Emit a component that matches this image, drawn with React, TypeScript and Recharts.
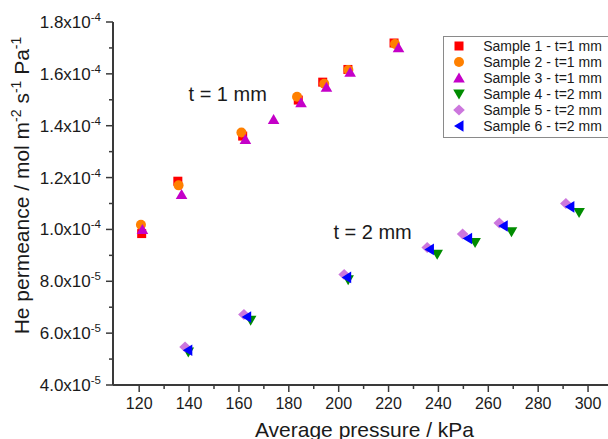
import React from 'react';
import { ScatterChart, Scatter, XAxis, YAxis, ReferenceDot, Legend } from 'recharts';

const FONT = 'Arial, "Liberation Sans", Helvetica, sans-serif';
const AXIS = '#3a3a3a';
const TEXT = '#1a1a1a';

// ticks
const xMajorTicks = [120, 140, 160, 180, 200, 220, 240, 260, 280, 300];
const xMinorTicks = [130, 150, 170, 190, 210, 230, 250, 270, 290];
const yMajorTicks = [4e-5, 6e-5, 8e-5, 1.0e-4, 1.2e-4, 1.4e-4, 1.6e-4, 1.8e-4];
const yMinorTicks = [5e-5, 7e-5, 9e-5, 1.1e-4, 1.3e-4, 1.5e-4, 1.7e-4];
const yTickMantissas = ['4.0', '6.0', '8.0', '1.0', '1.2', '1.4', '1.6', '1.8'];
const yTickExponents = ['-5', '-5', '-5', '-4', '-4', '-4', '-4', '-4'];

// series names / styles
const sampleNames = [
  'Sample 1 - t=1 mm',
  'Sample 2 - t=1 mm',
  'Sample 3 - t=1 mm',
  'Sample 4 - t=2 mm',
  'Sample 5 - t=2 mm',
  'Sample 6 - t=2 mm',
];
const sampleColors = ['#ff0000', '#ff8000', '#c400c8', '#008c00', '#cc77dd', '#0000ff'];
const sampleShapes = ['square', 'circle', 'triangleUp', 'triangleDown', 'diamond', 'triangleLeft'];

// data (kPa, mol m-2 s-1 Pa-1)
const s1Pressure = [121.0, 135.5, 161.5, 183.8, 193.6, 203.7, 222.2];
const s1Permeance = [9.84e-5, 1.186e-4, 1.36e-4, 1.499e-4, 1.568e-4, 1.617e-4, 1.719e-4];
const s2Pressure = [120.7, 135.8, 161.0, 183.3, 194.2, 203.9, 222.6];
const s2Permeance = [1.018e-4, 1.17e-4, 1.374e-4, 1.512e-4, 1.562e-4, 1.615e-4, 1.715e-4];
const s3Pressure = [121.3, 137.0, 162.6, 173.9, 184.9, 195.1, 204.6, 224.0];
const s3Permeance = [1.0e-4, 1.135e-4, 1.347e-4, 1.424e-4, 1.489e-4, 1.548e-4, 1.606e-4, 1.701e-4];
const s4Pressure = [139.7, 164.7, 203.8, 239.5, 254.7, 269.3, 296.4];
const s4Permeance = [5.27e-5, 6.5e-5, 8.06e-5, 9.04e-5, 9.5e-5, 9.91e-5, 1.065e-4];
const s5Pressure = [138.4, 162.0, 202.2, 235.5, 249.7, 264.4, 291.1];
const s5Permeance = [5.47e-5, 6.72e-5, 8.26e-5, 9.3e-5, 9.82e-5, 1.025e-4, 1.1e-4];
const s6Pressure = [139.5, 163.1, 203.2, 236.4, 251.7, 266.0, 292.7];
const s6Permeance = [5.34e-5, 6.62e-5, 8.15e-5, 9.23e-5, 9.65e-5, 1.013e-4, 1.087e-4];

// annotations
const annotationTexts = ['t = 1 mm', 't = 2 mm'];
const annotationX = [155.5, 213.6];
const annotationY = [1.522e-4, 9.89e-5];

const zip = (p: number[], v: number[]) => p.map((x, i) => ({ p: x, v: v[i] }));
const seriesData = [
  zip(s1Pressure, s1Permeance),
  zip(s2Pressure, s2Permeance),
  zip(s3Pressure, s3Permeance),
  zip(s4Pressure, s4Permeance),
  zip(s5Pressure, s5Permeance),
  zip(s6Pressure, s6Permeance),
];

const xTicks = [...xMajorTicks, ...xMinorTicks].sort((a, b) => a - b);
const yTicks = [...yMajorTicks, ...yMinorTicks].sort((a, b) => a - b);

function Marker({ kind, cx, cy, color }: { kind: string; cx: number; cy: number; color: string }) {
  switch (kind) {
    case 'square':
      return <rect x={cx - 4.5} y={cy - 4.5} width={9} height={9} fill={color} />;
    case 'circle':
      return <circle cx={cx} cy={cy} r={5} fill={color} />;
    case 'triangleUp':
      return <polygon points={`${cx},${cy - 5.5} ${cx + 5.8},${cy + 4.5} ${cx - 5.8},${cy + 4.5}`} fill={color} />;
    case 'triangleDown':
      return <polygon points={`${cx - 5.8},${cy - 4.5} ${cx + 5.8},${cy - 4.5} ${cx},${cy + 5.5}`} fill={color} />;
    case 'diamond':
      return <polygon points={`${cx},${cy - 5.5} ${cx + 5.8},${cy} ${cx},${cy + 5.5} ${cx - 5.8},${cy}`} fill={color} />;
    case 'triangleLeft':
      return <polygon points={`${cx - 5},${cy} ${cx + 4.5},${cy - 5.8} ${cx + 4.5},${cy + 5.8}`} fill={color} />;
    default:
      return null;
  }
}

const XTick = (props: any) => {
  const { x, y, payload } = props;
  const v = payload.value;
  const major = xMajorTicks.some((t) => Math.abs(t - v) < 1e-6);
  return (
    <g>
      <line x1={x} x2={x} y1={y} y2={y + (major ? 7 : 4)} stroke={AXIS} strokeWidth={1.5} />
      {major && (
        <text x={x} y={y + 13} dy="0.71em" textAnchor="middle" fontSize={16} fontFamily={FONT} fill={TEXT}>
          {v}
        </text>
      )}
    </g>
  );
};

const YTick = (props: any) => {
  const { x, y, payload } = props;
  const v = payload.value;
  const idx = yMajorTicks.findIndex((t) => Math.abs(t - v) < 1e-12);
  const major = idx >= 0;
  return (
    <g>
      <line x1={x - (major ? 7 : 4)} x2={x} y1={y} y2={y} stroke={AXIS} strokeWidth={1.5} />
      {major && (
        <text x={x - 12} y={y} dy="0.35em" textAnchor="end" fontSize={17} fontFamily={FONT} fill={TEXT}>
          <tspan>{yTickMantissas[idx]}x10</tspan>
          <tspan dy={-7} fontSize={11.5}>
            {yTickExponents[idx]}
          </tspan>
        </text>
      )}
    </g>
  );
};

const YTitle = (props: any) => {
  const vb = props.viewBox || { x: 0, y: 14, width: 105, height: 363 };
  const cx = vb.x + 14;
  const cy = vb.y + vb.height / 2 - 18;
  return (
    <text
      x={cx}
      y={cy}
      transform={`rotate(-90 ${cx} ${cy})`}
      textAnchor="middle"
      dy="0.35em"
      fontSize={21}
      fontFamily={FONT}
      fill={TEXT}
      style={{ whiteSpace: 'pre' }}
    >
      <tspan>He permeance / mol m</tspan>
      <tspan dy={-8} fontSize={14}>-2</tspan>
      <tspan dy={8}> s</tspan>
      <tspan dy={-8} fontSize={14}>-1</tspan>
      <tspan dy={8}> Pa</tspan>
      <tspan dy={-8} fontSize={14}>-1</tspan>
    </text>
  );
};

const XTitle = (props: any) => {
  const vb = props.viewBox || { x: 105, y: 377, width: 495, height: 54 };
  const cx = vb.x + vb.width / 2 + 4;
  const cy = vb.y + 52;
  return (
    <text x={cx} y={cy} textAnchor="middle" fontSize={21} fontFamily={FONT} fill={TEXT}>
      Average pressure / kPa
    </text>
  );
};

const LegendBox = () => (
  <div
    style={{
      position: 'relative',
      width: 190,
      height: 102,
      border: '1px solid #8a8a8a',
      background: '#fff',
      boxSizing: 'border-box',
      fontFamily: FONT,
    }}
  >
    {sampleNames.map((name, i) => (
      <div key={name} style={{ position: 'absolute', left: 0, top: 1 + i * 16.1, height: 16, width: 190 }}>
        <svg width={16} height={16} style={{ position: 'absolute', left: 7.3, top: 0 }}>
          <Marker kind={sampleShapes[i]} cx={8} cy={8} color={sampleColors[i]} />
        </svg>
        <span
          style={{
            position: 'absolute',
            left: 39.5,
            top: 0,
            fontSize: 14,
            lineHeight: '16px',
            color: TEXT,
            whiteSpace: 'nowrap',
          }}
        >
          {name}
        </span>
      </div>
    ))}
  </div>
);

export default function App() {
  return (
    <div style={{ position: 'absolute', left: 0, top: 0, width: 608, height: 439, overflow: 'hidden' }}>
      <style>{'html, body { overflow: hidden; }'}</style>
      <div style={{ position: 'absolute', left: 8, top: 8 }}>
        <ScatterChart width={600} height={431} margin={{ top: 14, right: 0, bottom: 0, left: 0 }}>
          <XAxis
            type="number"
            dataKey="p"
            domain={[109.5, 308]}
            ticks={xTicks}
            interval={0}
            tick={<XTick />}
            tickLine={false}
            tickSize={0}
            tickMargin={0}
            axisLine={{ stroke: AXIS, strokeWidth: 2 }}
            height={54}
            allowDataOverflow
            label={<XTitle />}
          />
          <YAxis
            type="number"
            dataKey="v"
            domain={[4e-5, 1.8e-4]}
            ticks={yTicks}
            interval={0}
            tick={<YTick />}
            tickLine={false}
            tickSize={0}
            tickMargin={0}
            axisLine={{ stroke: AXIS, strokeWidth: 2 }}
            width={105}
            allowDataOverflow
            label={<YTitle />}
          />
          {seriesData.map((data, i) => (
            <Scatter
              key={sampleNames[i]}
              name={sampleNames[i]}
              data={data}
              fill={sampleColors[i]}
              isAnimationActive={false}
              shape={(p: any) => <Marker kind={sampleShapes[i]} cx={p.cx} cy={p.cy} color={sampleColors[i]} />}
            />
          ))}
          {annotationTexts.map((t, i) => (
            <ReferenceDot
              key={t}
              x={annotationX[i]}
              y={annotationY[i]}
              r={0}
              fill="none"
              stroke="none"
              label={{ value: t, position: 'center', fontSize: 20, fill: TEXT, fontFamily: FONT }}
            />
          ))}
          <Legend
            layout="vertical"
            align="center"
            verticalAlign="middle"
            content={() => <LegendBox />}
            wrapperStyle={{ left: 434.7, top: 27.7, width: 190, height: 102 }}
          />
        </ScatterChart>
      </div>
    </div>
  );
}
